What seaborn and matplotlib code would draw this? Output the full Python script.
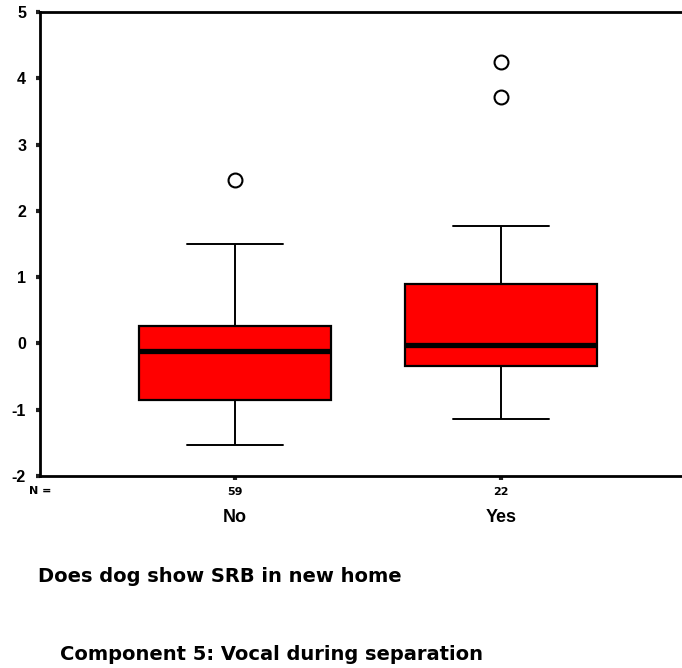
import matplotlib
matplotlib.use("Agg")
import matplotlib.pyplot as plt
import matplotlib.transforms as mtransforms
import pandas as pd
import seaborn as sns

# values (quartiles / whiskers / outliers per group)
groups = ["No", "Yes"]
n_counts = [59, 22]
vals_no = [-1.53, -0.95, -0.85, -0.5, -0.11, 0.1, 0.27, 1.50, 2.47]
vals_yes = [-1.14, -0.7, -0.5, -0.34, -0.2, -0.1, -0.02, 0.3, 0.6, 0.90, 1.77, 3.72, 4.25]

df = pd.DataFrame({
    "grp": ["No"] * len(vals_no) + ["Yes"] * len(vals_yes),
    "val": vals_no + vals_yes,
})

sns.set_style("white")
plt.rcParams["font.family"] = ["Liberation Sans", "DejaVu Sans"]
plt.rcParams["font.weight"] = "bold"
plt.rcParams["text.color"] = "black"
plt.rcParams["xtick.color"] = "black"
plt.rcParams["ytick.color"] = "black"
wide = ["DejaVu Sans"]

fig = plt.figure(figsize=(6.82, 6.68), dpi=100)
ax = fig.add_axes([40 / 682, 1 - 476 / 668, 1 - 40 / 682, (476 - 12) / 668])

sns.boxplot(data=df, x="grp", y="val", order=groups, ax=ax, width=0.72,
            color="#ff0000", saturation=1, whis=1.5,
            boxprops=dict(facecolor="#ff0000", edgecolor="black", linewidth=1.6),
            medianprops=dict(color="black", linewidth=3.8),
            whiskerprops=dict(color="black", linewidth=1.4),
            capprops=dict(color="black", linewidth=1.4),
            flierprops=dict(marker="o", markersize=10, markerfacecolor="white",
                            markeredgecolor="black", markeredgewidth=1.5))

ax.set_ylim(-2, 5)
ax.set_xlim(-0.733, 1.68)
ax.set_yticks(range(-2, 6))
ax.set_yticklabels([str(v) for v in range(-2, 6)], fontsize=11.5, fontweight="bold")
ax.set_xticks(range(len(groups)))
ax.set_xticklabels([str(n) for n in n_counts], fontsize=8, fontweight="bold",
                   family=wide)
ax.tick_params(axis="both", left=True, bottom=True, direction="out",
               length=3, width=3, color="#222222", pad=5)
ax.tick_params(axis="y", pad=7)
ax.set_xlabel("")
ax.set_ylabel("")

for side in ["left", "bottom", "top"]:
    ax.spines[side].set_visible(True)
    ax.spines[side].set_color("black")
    ax.spines[side].set_linewidth(2)
ax.spines["right"].set_visible(False)

trans = mtransforms.blended_transform_factory(ax.transData, fig.transFigure)
for i, g in enumerate(groups):
    ax.text(i, 1 - 518 / 668, g, transform=trans, ha="center", va="center",
            fontsize=13, fontweight="bold")
fig.text(40 / 682, 1 - 491 / 668, "N =", ha="center", va="center",
         fontsize=8, fontweight="bold", family=wide)

fig.text(38 / 682, 1 - 577 / 668, "Does dog show SRB in new home",
         ha="left", va="center", fontsize=14, fontweight="bold", family=wide)
fig.text(60 / 682, 1 - 655 / 668, "Component 5: Vocal during separation",
         ha="left", va="center", fontsize=14, fontweight="bold", family=wide)

fig.savefig("out.png", dpi=100, facecolor="white")
